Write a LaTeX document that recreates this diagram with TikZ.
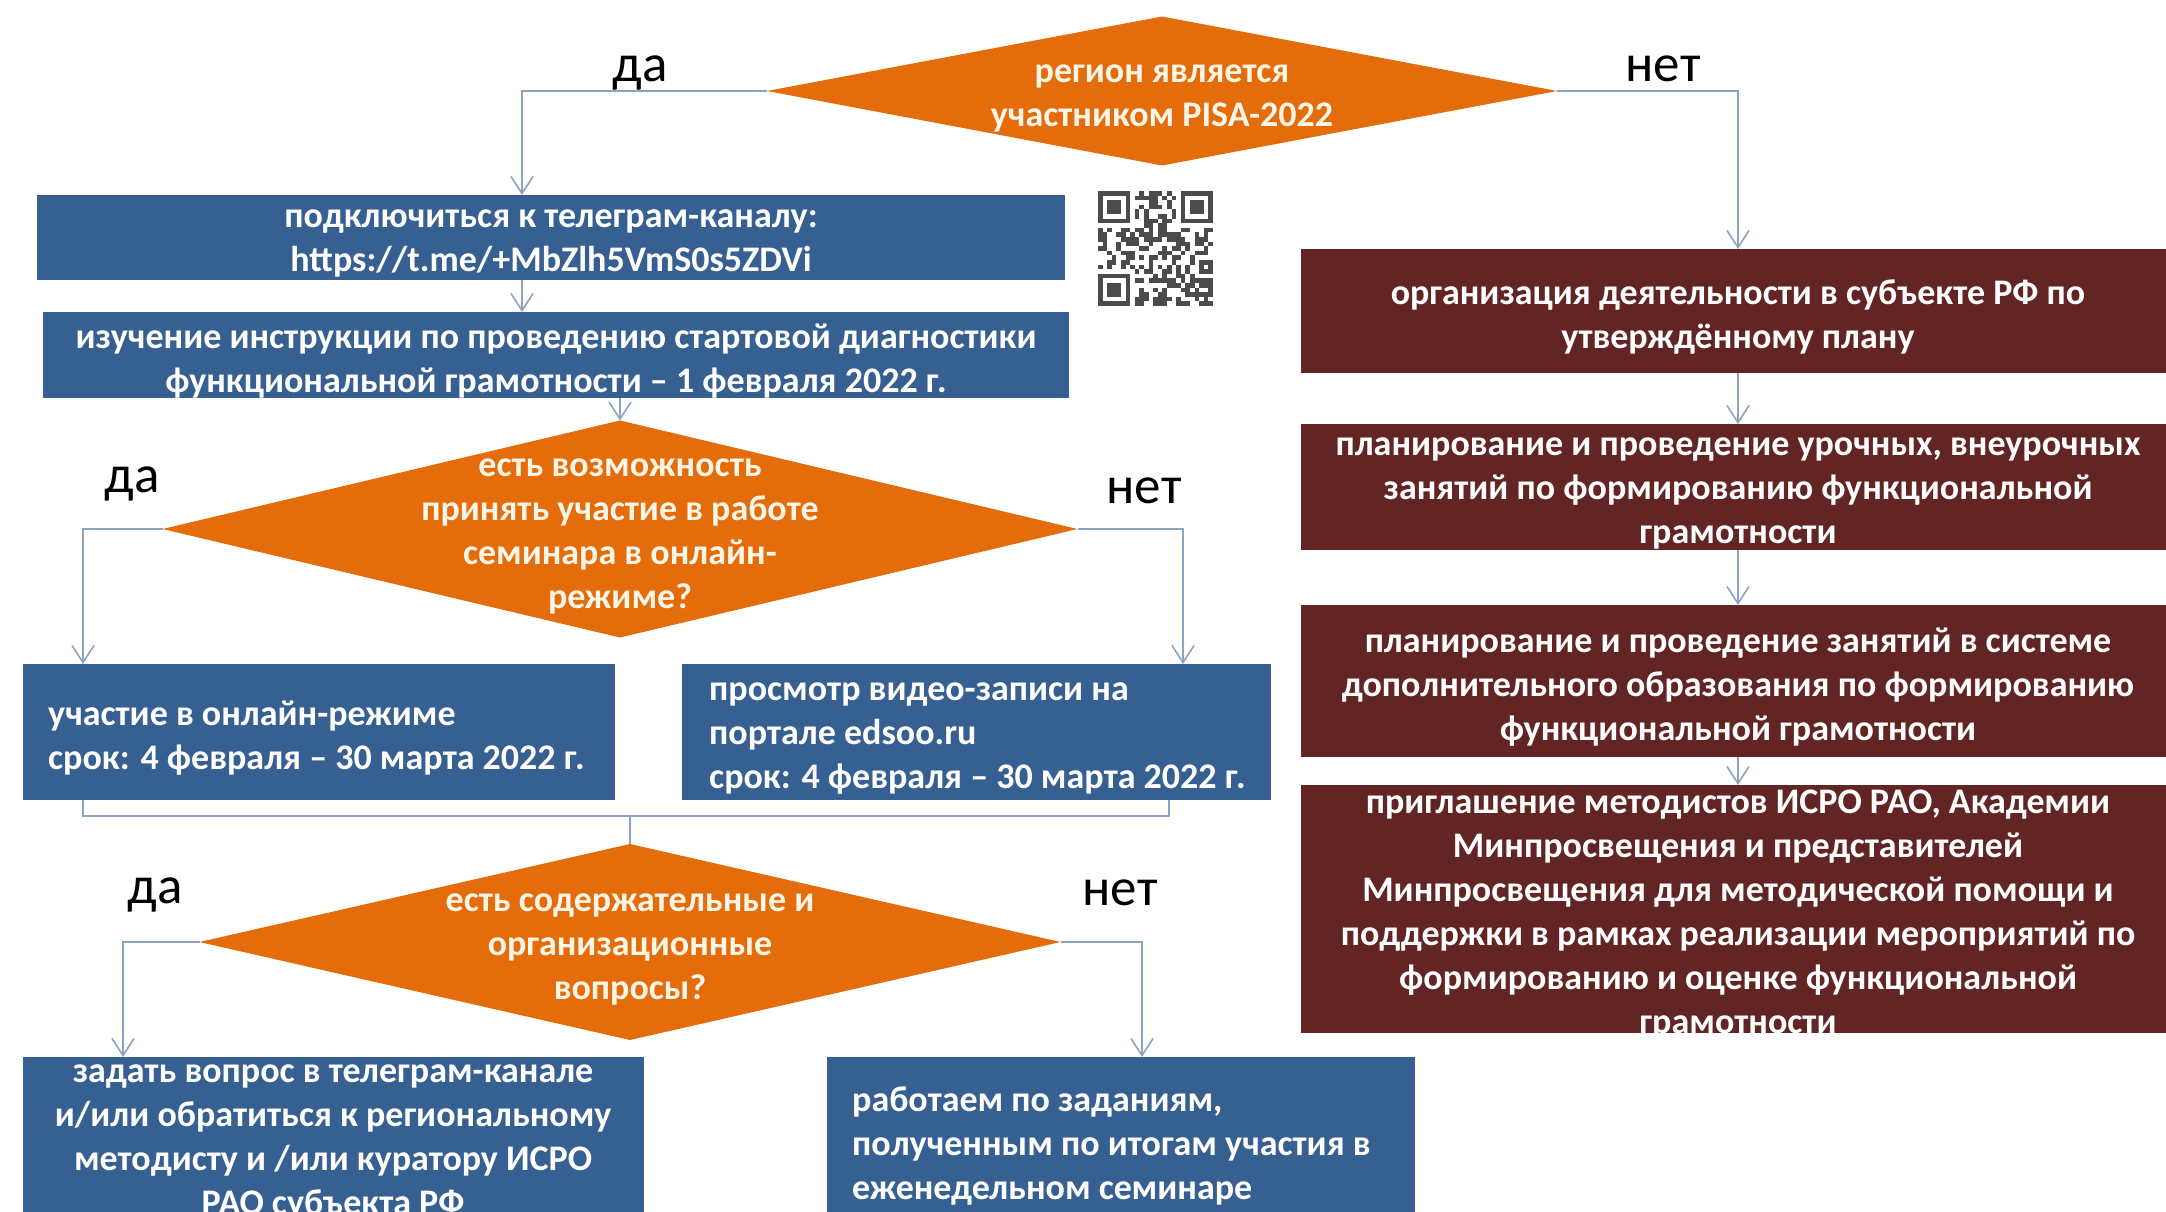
\documentclass[tikz,border=0pt]{standalone}
\usepackage{fontspec}
\setmainfont{Carlito}
\usetikzlibrary{arrows.meta,shapes.geometric,fit}
\definecolor{corange}{RGB}{228,108,10}
\definecolor{cblue}{RGB}{55,96,146}
\definecolor{cred}{RGB}{99,37,35}
\definecolor{clink}{RGB}{140,163,196}
\definecolor{cdtext}{RGB}{255,246,232}
\definecolor{cqr}{RGB}{75,75,75}
\tikzset{
 bluebox/.style={fill=cblue, inner sep=0pt, outer sep=0pt},
 redbox/.style={fill=cred, inner sep=0pt, outer sep=0pt},
 decision/.style={diamond, fill=corange, inner sep=0pt, outer sep=0pt},
 txt/.style={text=white, font=\bfseries\fontsize{36}{44}\selectfont, align=center, inner sep=0pt, yshift=-6pt},
 dtxt/.style={txt, text=cdtext, yshift=-1pt},
 lab/.style={font=\fontsize{53}{60}\selectfont, text=black, inner sep=0pt, anchor=base},
 conn/.style={draw=clink, line width=1.6pt, -{Straight Barb[length=17pt,width=22pt,line width=1.6pt]}},
 joinline/.style={draw=clink, line width=1.6pt},
}
\begin{document}
\begin{tikzpicture}[x=1pt,y=-1pt]
\useasboundingbox (0,0) rectangle (2166,1212);
\clip (0,0) rectangle (2166,1212);
\fill[white] (0,0) rectangle (2166,1212);

% decisions
\node[decision, minimum width=790pt, minimum height=149pt] (d1) at (1162,91) {};
\node[dtxt] (d1t) at (d1.center) {регион является\\участником PISA-2022};
\node[decision, minimum width=915pt, minimum height=217pt] (d2) at (620,529) {};
\node[dtxt] (d2t) at (d2.center) {есть возможность\\принять участие в работе\\семинара в онлайн-\\режиме?};
\node[decision, minimum width=861pt, minimum height=196pt] (d3) at (630,942) {};
\node[dtxt] (d3t) at (d3.center) {есть содержательные и\\организационные\\вопросы?};

% blue boxes
\node[bluebox, fit={(37,195) (1065,280)}] (b1) {};
\node[txt] (b1t) at (b1.center) {подключиться к телеграм-каналу:\\https://t.me/+MbZlh5VmS0s5ZDVi};
\node[bluebox, fit={(43,312) (1069,398)}] (b2) {};
\node[txt] (b2t) at (b2.center) {изучение инструкции по проведению стартовой диагностики\\функциональной грамотности – 1 февраля 2022 г.};
\node[bluebox, fit={(23,664) (615,800)}] (b3) {};
\node[txt, align=left, anchor=west, xshift=25pt] (b3t) at (b3.west) {участие в онлайн-режиме\\срок: 4 февраля – 30 марта 2022 г.};
\node[bluebox, fit={(682,664) (1271,800)}] (b4) {};
\node[txt, align=left, anchor=west, xshift=27pt] (b4t) at (b4.west) {просмотр видео-записи на\\портале edsoo.ru\\срок: 4 февраля – 30 марта 2022 г.};
\node[bluebox, fit={(23,1057) (644,1220)}] (b5) {};
\node[txt] (b5t) at (333,1136) {задать вопрос  в телеграм-канале\\и/или обратиться к  региональному\\методисту и /или куратору ИСРО\\РАО субъекта РФ};
\node[bluebox, fit={(827,1057) (1415,1224)}] (b6) {};
\node[txt, align=left, anchor=west] (b6t) at (852,1140) {работаем по заданиям,\\полученным по итогам участия в\\еженедельном семинаре};

% red boxes
\node[redbox, fit={(1301,249) (2175,373)}] (r1) {};
\node[txt] (r1t) at (r1.center) {организация деятельности в субъекте РФ по\\утверждённому плану};
\node[redbox, fit={(1301,424) (2175,550)}] (r2) {};
\node[txt] (r2t) at (r2.center) {планирование и проведение урочных, внеурочных\\занятий по формированию функциональной\\грамотности};
\node[redbox, fit={(1301,605) (2175,757)}] (r3) {};
\node[txt] (r3t) at (r3.center) {планирование и проведение занятий в системе\\дополнительного образования по формированию\\функциональной грамотности};
\node[redbox, fit={(1301,785) (2175,1033)}] (r4) {};
\node[txt] (r4t) at (r4.center) {приглашение методистов ИСРО РАО, Академии\\Минпросвещения и представителей\\Минпросвещения  для методической помощи и\\поддержки в рамках  реализации мероприятий по\\формированию и оценке функциональной\\грамотности};

% QR code
\begin{scope}[shift={(1098,191)}, x=4.6pt, y=-4.6pt]
\foreach \i in {0,...,24}{\foreach \j in {0,...,24}{
  \pgfmathtruncatemacro\qv{(mod(mod(\i*\i*7+3,53)*(\j+1)+mod(\j*\j*11,47)*(\i+2)+\i*\j,17)<8)*(1-(\i<8)*(\j<8))*(1-(\i>16)*(\j<8))*(1-(\i<8)*(\j>16))}
  \ifnum\qv=1 \fill[cqr] (\i,\j) rectangle +(1,1); \fi
}}
\foreach \a/\b in {0/0,18/0,0/18}{
  \fill[cqr] (\a,\b) rectangle +(7,7);
  \fill[white] (\a+1,\b+1) rectangle +(5,5);
  \fill[cqr] (\a+2,\b+2) rectangle +(3,3);
}
\end{scope}

% connector coordinates
\coordinate (xa) at (522,0);
\coordinate (xb) at (83,0);
\coordinate (xc) at (1183,0);
\coordinate (xd) at (1169,0);
\coordinate (xe) at (123,0);
\coordinate (xf) at (1142,0);
\coordinate (ym) at (0,816);

% connectors
\draw[conn] (d1.west) -| (b1.north -| xa);
\draw[conn] (d1.east) -| (r1.north);
\draw[conn] (b1.south -| xa) -- (b2.north -| xa);
\draw[conn] (b2.south -| d2.north) -- (d2.north);
\draw[conn] (d2.west) -| (b3.north -| xb);
\draw[conn] (d2.east) -| (b4.north -| xc);
\draw[joinline] (b3.south -| xb) -- (xb |- ym) -- (xd |- ym) -- (b4.south -| xd);
\draw[joinline] (d3.north |- ym) -- (d3.north);
\draw[conn] (d3.west) -| (b5.north -| xe);
\draw[conn] (d3.east) -| (b6.north -| xf);
\draw[conn] (r1.south) -- (r2.north);
\draw[conn] (r2.south) -- (r3.north);
\draw[conn] (r3.south) -- (r4.north);

% labels
\node[lab] (l1) at (640,82) {да};
\node[lab] (l2) at (1663,82) {нет};
\node[lab] (l3) at (132,492) {да};
\node[lab] (l4) at (1144,503) {нет};
\node[lab] (l5) at (155,903) {да};
\node[lab] (l6) at (1120,905) {нет};
\end{tikzpicture}
\end{document}
